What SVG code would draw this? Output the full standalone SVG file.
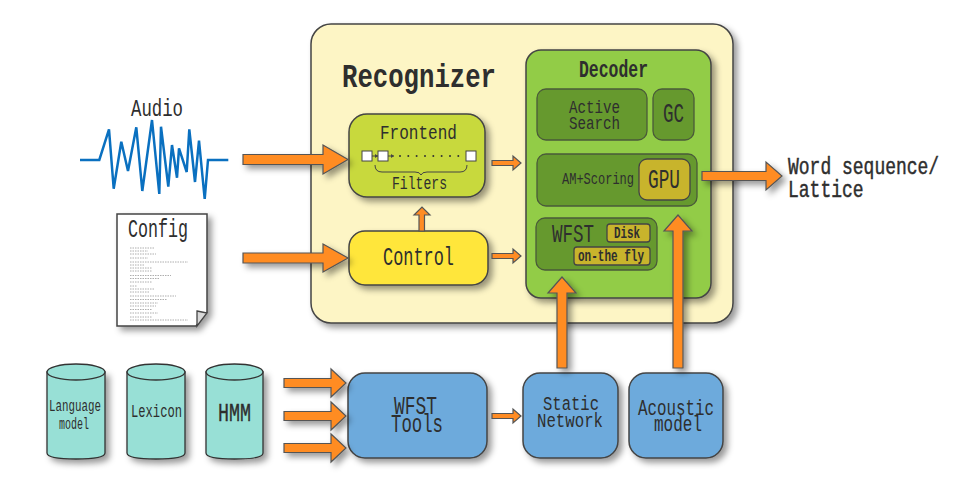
<svg xmlns="http://www.w3.org/2000/svg" width="956" height="486" viewBox="0 0 956 486">
<style>
text{font-family:"Liberation Mono","DejaVu Sans Mono",monospace;fill:#2e2e2e;}
.b{font-weight:bold}
.m{stroke:#2e2e2e;stroke-width:0.35}
.box{stroke:#444;stroke-width:1.5}
.inner{stroke:#4a5a3a;stroke-width:1.3;fill:#66992e}
.gold{stroke:#444;stroke-width:1.3;fill:#c8b42c}
.blue{fill:#6daadc}
.cyl{fill:#98e0d6;stroke:#333;stroke-width:1.3}
.arrow{fill:#ff8c24;stroke:#555;stroke-width:1.2}
.sq{fill:#fff;stroke:#444;stroke-width:1}
.fine{fill:none;stroke:#444;stroke-width:1}
.tiny{stroke:#999;stroke-width:0.8;stroke-dasharray:1.5 1}
.sh{filter:url(#s)}
</style>
<defs>
<filter id="s" x="-20%" y="-20%" width="150%" height="150%"><feDropShadow dx="4" dy="4" stdDeviation="3" flood-color="#000" flood-opacity="0.4"/></filter>
</defs>
<rect width="956" height="486" fill="#fff"/>
<g id="recognizer">
<rect class="box sh" x="311" y="24" width="422" height="299" rx="20" fill="#fdf5c5"/>
<text class="b" x="342" y="87" font-size="33" textLength="154" lengthAdjust="spacingAndGlyphs">Recognizer</text>
</g>
<g id="decoder">
<rect class="box sh" x="526" y="50" width="185" height="248" rx="15" fill="#92cc46"/>
<text class="b" x="579" y="77" font-size="23" textLength="69" lengthAdjust="spacingAndGlyphs">Decoder</text>
</g>
<g id="active-search">
<rect class="inner" x="537" y="89" width="110" height="51" rx="9"/>
<text x="569" y="113" font-size="19" textLength="51" lengthAdjust="spacingAndGlyphs">Active</text>
<text x="569" y="129" font-size="19" textLength="51" lengthAdjust="spacingAndGlyphs">Search</text>
</g>
<g id="gc">
<rect class="inner" x="653" y="89" width="41" height="51" rx="9"/>
<text x="663" y="122" font-size="27" textLength="21" lengthAdjust="spacingAndGlyphs">GC</text>
</g>
<g id="am-scoring">
<rect class="inner" x="537" y="154" width="160" height="52" rx="9"/>
<text x="562" y="184" font-size="17" textLength="72" lengthAdjust="spacingAndGlyphs">AM+Scoring</text>
</g>
<g id="gpu">
<rect class="gold" x="639" y="159" width="51" height="41" rx="8"/>
<text x="648" y="188" font-size="27" textLength="32" lengthAdjust="spacingAndGlyphs">GPU</text>
</g>
<g id="wfst">
<rect class="inner" x="536" y="218" width="121" height="52" rx="9"/>
<text x="552" y="242" font-size="26" textLength="42" lengthAdjust="spacingAndGlyphs">WFST</text>
</g>
<g id="disk">
<rect class="gold" x="607" y="224" width="43" height="18" rx="3"/>
<text class="b" x="614" y="238" font-size="16" textLength="26" lengthAdjust="spacingAndGlyphs">Disk</text>
</g>
<g id="on-the-fly">
<rect class="gold" x="574" y="247" width="76" height="18" rx="3"/>
<text class="b" x="578" y="261" font-size="16" textLength="66" lengthAdjust="spacingAndGlyphs">on-the fly</text>
</g>
<g id="frontend">
<rect class="box sh" x="349" y="114" width="136" height="83" rx="18" fill="#c8d93c"/>
<text x="380" y="139" font-size="21" textLength="77" lengthAdjust="spacingAndGlyphs">Frontend</text>
<rect class="sq" x="362" y="151" width="10" height="10"/>
<rect class="sq" x="378" y="151" width="10" height="10"/>
<rect class="sq" x="466" y="151" width="10" height="10"/>
<path class="fine" d="M372 156H378M388 156H394"/>
<path fill="#444" d="M378 156l-3-2v4zM394 156l-3-2v4z"/>
<g fill="#333"><circle cx="400" cy="156" r="1"/><circle cx="408.300" cy="156" r="1"/><circle cx="416.600" cy="156" r="1"/><circle cx="425" cy="156" r="1"/><circle cx="433.300" cy="156" r="1"/><circle cx="441.600" cy="156" r="1"/><circle cx="450" cy="156" r="1"/><circle cx="458.300" cy="156" r="1"/></g>
<path class="fine" d="M375 165Q375 172 382 172H415Q420 172 421 175Q422 172 427 172H460Q467 172 467 165"/>
<text x="392" y="189" font-size="19" textLength="55" lengthAdjust="spacingAndGlyphs">Filters</text>
</g>
<g id="control">
<rect class="box sh" x="349" y="231" width="139" height="54" rx="16" fill="#ffe63a"/>
<text x="383" y="265" font-size="26" textLength="71" lengthAdjust="spacingAndGlyphs">Control</text>
</g>
<g id="audio">
<text x="131" y="116" font-size="24" textLength="52" lengthAdjust="spacingAndGlyphs">Audio</text>
<polyline fill="none" stroke="#0a70c0" stroke-width="2.500" points="80,160 99.300,160 109,129.300 113.700,188.700 121.300,141.700 128,171 136.300,127.300 142.300,191 152,120 159.300,194 161,126.700 168.300,186.700 172,145 177,177.700 179,148.300 186.700,172 189.300,129.300 195,182 199,140.700 204.700,199 208,160 228.300,160"/>
</g>
<g id="config">
<polygon class="sh" points="117,214 207,214 207,312 196,326 117,326" fill="#fff" stroke="#444" stroke-width="1.500"/>
<polygon points="197,311 207,313 197,326" fill="#d8d8d8" stroke="#444" stroke-width="1.300"/>
<text x="128" y="237" font-size="25" textLength="60" lengthAdjust="spacingAndGlyphs">Config</text>
<path class="tiny" d="M130 248H155M130 251H148M130 254H156M130 258H148M130 262H188M130 265H145M130 268H152M130 271H152M130 275.500H171M130 278.500H160M130 282H152M130 286H137M130 289H155M130 292H149M130 296H176M130 299.500H167M130 303H158M130 306H156M130 309.500H152M130 313H158M130 317H152M130 320H188"/>
</g>
<g id="language-model">
<path class="cyl sh" d="M47 372V453Q47 459 76 459Q105 459 105 453V372Z"/>
<ellipse class="cyl" cx="76" cy="372" rx="29" ry="8"/>
<text x="49" y="411" font-size="16" textLength="52" lengthAdjust="spacingAndGlyphs">Language</text>
<text x="59" y="429" font-size="16" textLength="30" lengthAdjust="spacingAndGlyphs">model</text>
</g>
<g id="lexicon">
<path class="cyl sh" d="M127 372V453Q127 459 156 459Q185 459 185 453V372Z"/>
<ellipse class="cyl" cx="156" cy="372" rx="29" ry="8"/>
<text x="131" y="417" font-size="18" textLength="51" lengthAdjust="spacingAndGlyphs">Lexicon</text>
</g>
<g id="hmm">
<path class="cyl sh" d="M206 372V453Q206 459 234.500 459Q263 459 263 453V372Z"/>
<ellipse class="cyl" cx="234.500" cy="372" rx="28.500" ry="8"/>
<text class="m" x="218" y="421" font-size="25" textLength="33" lengthAdjust="spacingAndGlyphs">HMM</text>
</g>
<g id="wfst-tools">
<rect class="box blue sh" x="348" y="373" width="139" height="85" rx="17"/>
<text x="394" y="414" font-size="25" textLength="43" lengthAdjust="spacingAndGlyphs">WFST</text>
<text x="391" y="432" font-size="25" textLength="52" lengthAdjust="spacingAndGlyphs">Tools</text>
</g>
<g id="static-network">
<rect class="box blue sh" x="523" y="373" width="95" height="85" rx="17"/>
<text x="543" y="410" font-size="20" textLength="56" lengthAdjust="spacingAndGlyphs">Static</text>
<text x="537" y="427" font-size="20" textLength="66" lengthAdjust="spacingAndGlyphs">Network</text>
</g>
<g id="acoustic-model">
<rect class="box blue sh" x="629" y="373" width="94" height="85" rx="17"/>
<text x="638" y="415" font-size="22" textLength="76" lengthAdjust="spacingAndGlyphs">Acoustic</text>
<text x="654" y="431" font-size="22" textLength="48" lengthAdjust="spacingAndGlyphs">model</text>
</g>
<g id="output">
<text class="m" transform="translate(788 174) scale(1 1.35)" font-size="18">Word sequence/</text>
<text class="m" transform="translate(788 197) scale(1 1.35)" font-size="18">Lattice</text>
</g>
<g id="connectors">
<g class="sh">
<polygon class="arrow" points="243,154.500 323,154.500 323,145 348,159.500 323,174 323,164.500 243,164.500"/>
<polygon class="arrow" points="243,253 323,253 323,244 348,258 323,272 323,263 243,263"/>
<polygon class="arrow" points="284,378.500 331,378.500 331,369 346,383 331,397 331,387.500 284,387.500"/>
<polygon class="arrow" points="284,411.500 331,411.500 331,402 346,416 331,430 331,420.500 284,420.500"/>
<polygon class="arrow" points="284,443.500 331,443.500 331,434 346,448 331,462 331,452.500 284,452.500"/>
<polygon class="arrow" points="702,171.500 766,171.500 766,162 782,176 766,190 766,180.500 702,180.500"/>
<polygon class="arrow" points="557,368 557,293 548,293 562,277 576,293 567,293 567,368"/>
<polygon class="arrow" points="673,368 673,231 664,231 678,215 692,231 683,231 683,368"/>
</g>
<polygon class="arrow" points="492,160.500 513,160.500 513,156 521,163 513,170 513,165.500 492,165.500"/>
<polygon class="arrow" points="492,253.500 513,253.500 513,249 521,256 513,263 513,258.500 492,258.500"/>
<polygon class="arrow" points="492,413.500 513,413.500 513,409 521,416 513,423 513,418.500 492,418.500"/>
<polygon class="arrow" points="419,231 419,215 414,215 422,207 430,215 424.500,215 424.500,231"/>
</g>
</svg>
